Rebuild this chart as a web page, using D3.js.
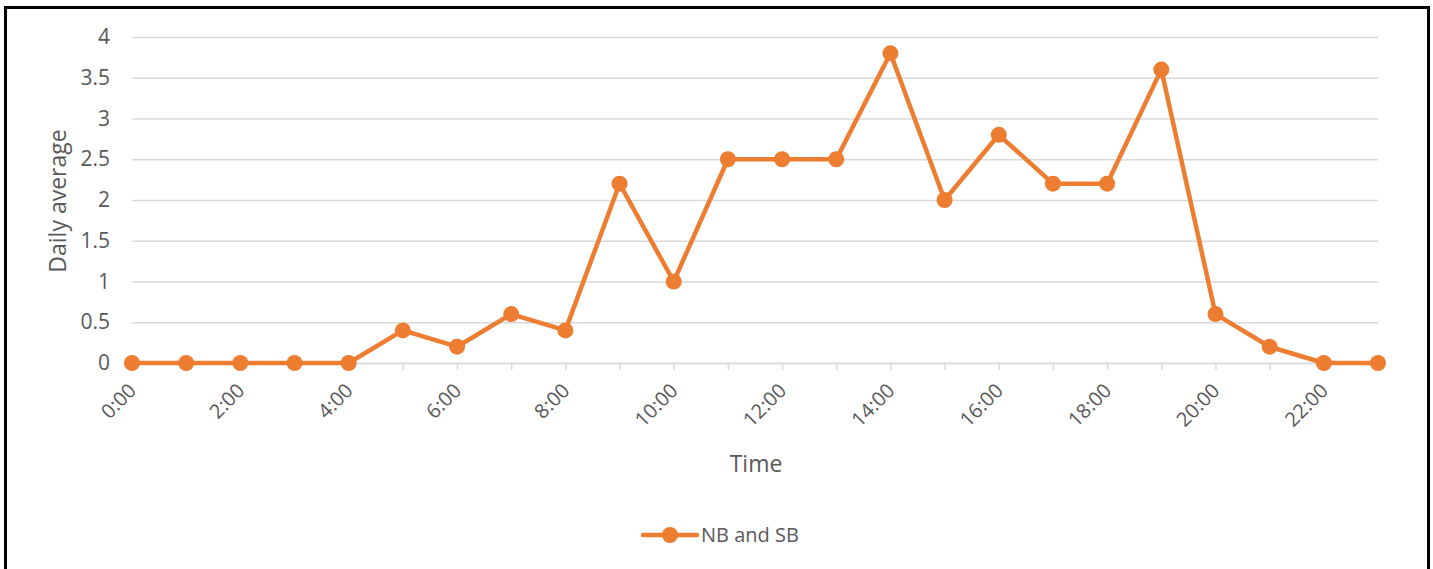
<!DOCTYPE html>
<html>
<head>
<meta charset="utf-8">
<script src="https://cdn.jsdelivr.net/npm/d3@7"></script>
<style>
  body { margin: 0; background: #fff; }
  text { font-family: "Open Sans", Lato, sans-serif; fill: #595959; }
</style>
</head>
<body>
<div class="displayArea"></div>
<script>
const width = 1433, height = 569;

var hours = d3.range(0, 24); // 0:00 .. 23:00
var average = [0, 0, 0, 0, 0, 0.4, 0.2, 0.6, 0.4, 2.2, 1, 2.5, 2.5, 2.5, 3.8, 2, 2.8, 2.2, 2.2, 3.6, 0.6, 0.2, 0, 0];
var yTicks = [0, 0.5, 1, 1.5, 2, 2.5, 3, 3.5, 4];
var seriesName = "NB and SB";
var orange = "#ED7D31";

var svg = d3.select(".displayArea")
    .append("svg")
    .attr("width", width)
    .attr("height", height);

// black frame round the chart
svg.append("rect")
    .attr("x", 5.5).attr("y", 7.5)
    .attr("width", 1423).attr("height", 580)
    .attr("fill", "none")
    .attr("stroke", "#000")
    .attr("stroke-width", 3);

var xScale = d3.scaleLinear()
    .domain([0, 23])
    .range([132, 1378]);

var yScale = d3.scaleLinear()
    .domain([0, 4])
    .range([363, 37]);

// gridlines + y labels
var yAxis = d3.axisLeft(yScale)
    .tickValues(yTicks)
    .tickSize(-(1378 - 132))
    .tickPadding(22)
    .tickFormat(d3.format("~g"));

var gy = svg.append("g")
    .attr("transform", "translate(132,0)")
    .call(yAxis);
gy.select(".domain").remove();
gy.selectAll("line").attr("stroke", "#d9d9d9").attr("stroke-width", 1.5);
gy.selectAll("text").style("font-size", "21px").attr("fill", "#595959");

// x axis with a tick at every hour, label every two hours
var xAxis = d3.axisBottom(xScale)
    .tickValues(hours)
    .tickSize(7)
    .tickFormat(function (d) { return d % 2 === 0 ? d + ":00" : ""; });

var gx = svg.append("g")
    .attr("transform", "translate(0,363)")
    .call(xAxis);
gx.select(".domain").attr("stroke", "#d9d9d9").attr("stroke-width", 1.5);
gx.selectAll("line").attr("stroke", "#d9d9d9").attr("stroke-width", 1.5);
gx.selectAll("text")
    .style("font-size", "20px")
    .attr("fill", "#595959")
    .attr("text-anchor", "end")
    .attr("x", 0).attr("y", 0)
    .attr("dy", "0.35em")
    .attr("transform", "translate(0,24) rotate(-45)");

// series line
var line = d3.line()
    .x(function (d, i) { return xScale(hours[i]); })
    .y(function (d) { return yScale(d); });

svg.append("path")
    .datum(average)
    .attr("d", line)
    .attr("fill", "none")
    .attr("stroke", orange)
    .attr("stroke-width", 4.5)
    .attr("stroke-linejoin", "round");

svg.selectAll("circle.pt")
    .data(average)
    .enter()
    .append("circle")
    .attr("class", "pt")
    .attr("cx", function (d, i) { return xScale(hours[i]); })
    .attr("cy", function (d) { return yScale(d); })
    .attr("r", 8)
    .attr("fill", orange);

// axis titles
svg.append("text")
    .attr("x", 756).attr("y", 472)
    .attr("text-anchor", "middle")
    .style("font-size", "23px")
    .text("Time");

svg.append("text")
    .attr("transform", "translate(66,201) rotate(-90)")
    .attr("text-anchor", "middle")
    .style("font-size", "23px")
    .text("Daily average");

// legend
var lg = svg.append("g").attr("transform", "translate(643,535)");
lg.append("line")
    .attr("x1", 0).attr("x2", 54)
    .attr("stroke", orange).attr("stroke-width", 4.5)
    .attr("stroke-linecap", "round");
lg.append("circle").attr("cx", 27).attr("r", 8).attr("fill", orange);
lg.append("text")
    .attr("x", 58).attr("dy", "0.35em")
    .style("font-size", "20px")
    .text(seriesName);
</script>
</body>
</html>
